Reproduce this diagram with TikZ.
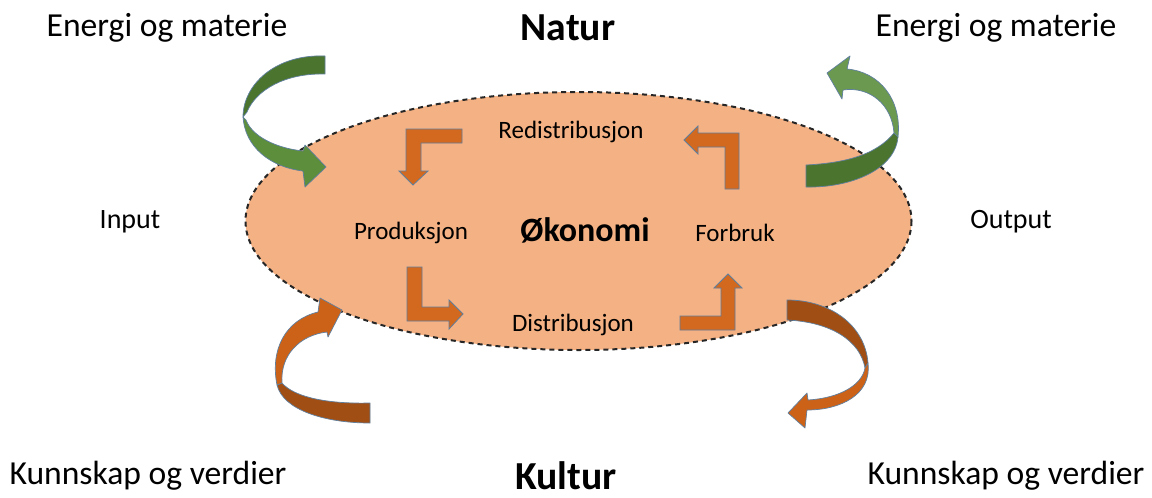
\documentclass[tikz,border=0pt]{standalone}
\usepackage{fontspec}
\setmainfont{Carlito}
\definecolor{ellfill}{HTML}{F4B183}
\definecolor{bent}{HTML}{D2691E}
\definecolor{edge}{HTML}{5F7F9F}
\definecolor{gdark}{HTML}{4B742E}
\definecolor{glight}{HTML}{5C8E3C}
\definecolor{odark}{HTML}{A14E14}
\definecolor{olight}{HTML}{CC6218}
\tikzset{
  bentarrow/.style={fill=bent, draw=edge, line width=0.8pt, line join=miter},
  ribbon/.style={draw=edge, line width=0.7pt, line join=round},
  big/.style={font=\fontsize{33.6}{36}\selectfont},
  bigbold/.style={font=\fontsize{39.7}{42}\selectfont\bfseries},
  mid/.style={font=\fontsize{25}{28}\selectfont},
  small/.style={font=\fontsize{28}{30}\selectfont},
}
\begin{document}
\begin{tikzpicture}[x=1pt,y=-1pt]
\useasboundingbox (0,0) rectangle (1152,498);
\fill[white] (0,0) rectangle (1152,498);
% ellipse
\draw[fill=ellfill, draw=black!85, line width=2pt, dash pattern=on 5pt off 4pt] (578.5,221) ellipse [x radius=333, y radius=129];

% top-left green curved arrow
\fill[gdark, ribbon] (325,56) .. controls (275,54) and (243,85) .. (243,117)
  -- (247,112) .. controls (256,90) and (285,73) .. (325,74) -- cycle;
\fill[glight, ribbon] (243,117) .. controls (245,147) and (270,167) .. (303,171)
  -- (305,187) -- (326,167) -- (305,145) -- (303,151)
  .. controls (275,148) and (252,136) .. (246,120) -- cycle;

% top-right green curved arrow
\fill[gdark, ribbon] (806,187) .. controls (850,188) and (895,170) .. (898,137)
  -- (894,133) .. controls (876,155) and (845,163) .. (806,165) -- cycle;
\fill[glight!90!white, ribbon] (898,137) .. controls (902,100) and (880,72) .. (847,69)
  -- (850,56) -- (827,73) -- (842,99) -- (843,90)
  .. controls (870,86) and (892,105) .. (894,133) -- cycle;

% bottom-left orange curved arrow
\fill[odark, ribbon] (370,403) .. controls (330,404) and (295,398) .. (282,383)
  -- (277,385) .. controls (283,410) and (325,423) .. (370,423) -- cycle;
\fill[olight, ribbon] (277,385) .. controls (270,350) and (285,320) .. (318,312)
  -- (320,298) -- (342,310) -- (328,337) -- (327,332)
  .. controls (300,335) and (280,355) .. (282,383) -- cycle;

% bottom-right orange curved arrow
\fill[odark, ribbon] (787,300) .. controls (830,300) and (865,325) .. (868,363)
  -- (865,368) .. controls (860,340) and (830,322) .. (787,320) -- cycle;
\fill[olight, ribbon] (868,363) .. controls (872,395) and (840,410) .. (807,410)
  -- (805,428) -- (788,413) -- (807,393) -- (808,400)
  .. controls (840,398) and (862,385) .. (865,368) -- cycle;

% bent arrows inside
\draw[bentarrow] (462,129) -- (406,129) -- (406,171) -- (399,171) -- (413,185) -- (428,171) -- (421,171) -- (421,143) -- (462,143) -- cycle;
\draw[bentarrow] (739,189) -- (739,133) -- (698,133) -- (698,126) -- (684,140) -- (698,154) -- (698,147) -- (725,147) -- (725,189) -- cycle;
\draw[bentarrow] (407,267) -- (407,321) -- (449,321) -- (449,329) -- (463,314) -- (449,300) -- (449,307) -- (422,307) -- (422,267) -- cycle;
\draw[bentarrow] (680,316) -- (680,330) -- (735,330) -- (735,288) -- (742,288) -- (728,274) -- (714,288) -- (721,288) -- (721,316) -- cycle;

% texts
\node[big] (em1) at (167,28) {Energi og materie};
\node[bigbold] (natur) at (568,28) {Natur};
\node[big] (em2) at (996,28) {Energi og materie};
\node[small] (input) at (130,222) {Input};
\node[small] (output) at (1011,222) {Output};
\node[mid] (redis) at (571,132) {Redistribusjon};
\node[mid] (prod) at (411,233) {Produksjon};
\node[font=\fontsize{34}{37}\selectfont\bfseries] (oko) at (585,230) {Økonomi};
\node[mid] (forb) at (735,233) {Forbruk};
\node[mid] (dist) at (573,325) {Distribusjon};
\node[big] (kv1) at (148,476) {Kunnskap og verdier};
\node[bigbold] (kultur) at (566,476) {Kultur};
\node[big] (kv2) at (1006,476) {Kunnskap og verdier};
\end{tikzpicture}
\end{document}
